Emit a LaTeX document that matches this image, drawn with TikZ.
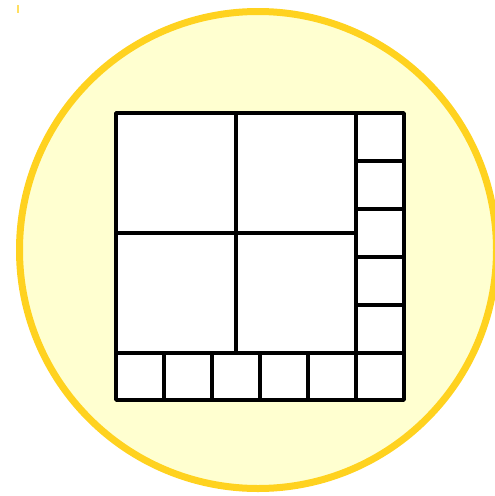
\documentclass[tikz,border=0pt]{standalone}
\definecolor{circfill}{HTML}{FFFFD0}
\definecolor{circline}{HTML}{FFD21F}
\tikzset{gridline/.style={line width=3.6pt,black,line cap=round,line join=round}}
\begin{document}
\begin{tikzpicture}[x=1pt,y=-1pt]
\useasboundingbox (0,0) rectangle (495,496);
\begin{scope}
\clip (0,0) rectangle (495,496);
\draw[circline,fill=circfill,line width=7pt] (258,250) circle (238.5);
\end{scope}
\draw[circline!70,line width=1.2pt] (18,5) -- (18,13);
\fill[white] (116,113) rectangle (404,400);
% outer frame
\draw[gridline] (116,113) rectangle (404,400);
% big squares
\draw[gridline] (236,113) -- (236,353);
\draw[gridline] (116,233) -- (356,233);
\draw[gridline] (356,113) -- (356,400);
\draw[gridline] (116,353) -- (404,353);
% right column
\foreach \y in {161,209,257,305} \draw[gridline] (356,\y) -- (404,\y);
% bottom row
\foreach \x in {164,212,260,308} \draw[gridline] (\x,353) -- (\x,400);
\end{tikzpicture}
\end{document}
